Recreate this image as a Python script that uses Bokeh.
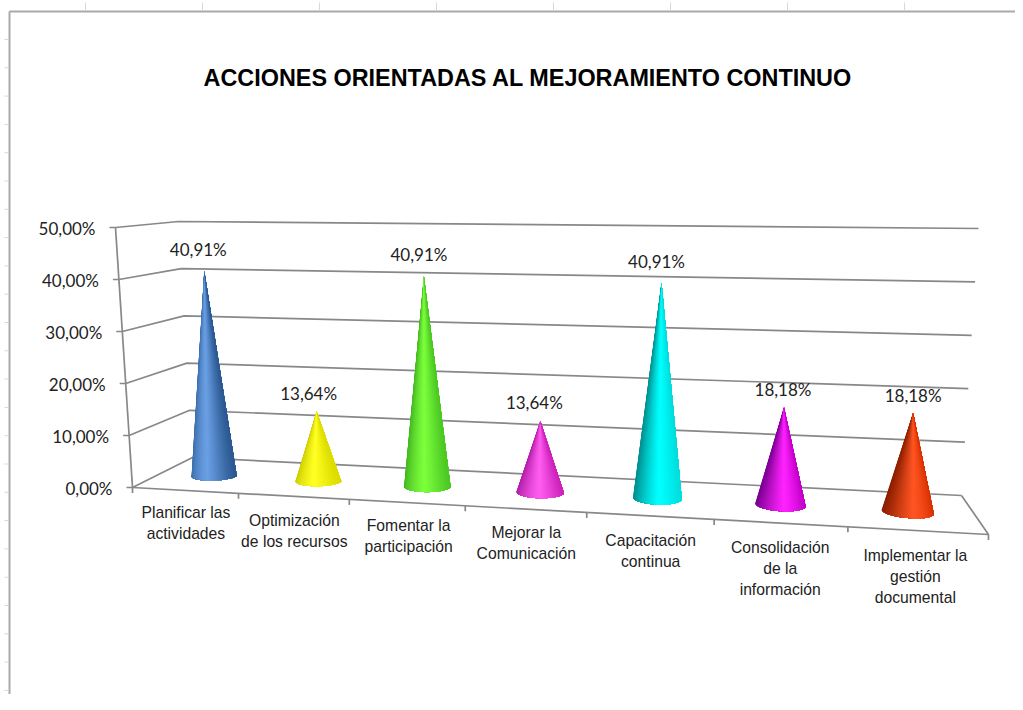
import math
from bokeh.plotting import figure
from bokeh.models import ColumnDataSource, Range1d
from bokeh.core.properties import value
from bokeh.embed import file_html
from bokeh.resources import INLINE

# ---- data ----
title = "ACCIONES ORIENTADAS AL MEJORAMIENTO CONTINUO"
categories = [
    "Planificar las\nactividades",
    "Optimización\nde los recursos",
    "Fomentar la\nparticipación",
    "Mejorar la\nComunicación",
    "Capacitación\ncontinua",
    "Consolidación\nde la\ninformación",
    "Implementar la\ngestión\ndocumental",
]
values = [40.91, 13.64, 40.91, 13.64, 40.91, 18.18, 18.18]
axis_ticks = [0, 10, 20, 30, 40, 50]

# ---- styles: (left edge, highlight, right edge) of every cone ----
shades = [
    ("#33659f", "#6a9fe4", "#2c5a92"),
    ("#c8c800", "#ffff22", "#dcdc00"),
    ("#3fb01e", "#7cff3c", "#4cc824"),
    ("#b01ca6", "#ff5cf0", "#cc22bb"),
    ("#008c8c", "#00ffff", "#00dcdc"),
    ("#7a0090", "#ff22ff", "#c000c8"),
    ("#8c1e00", "#ff5522", "#d83000"),
]
# small layout nudges, in pixels
label_offsets = [(-6, -21), (-8, -18), (-5, -22), (-6, -19), (-5, -21), (-1, -18), (0, -17)]
cone_nudge = [3, 4, 5, 5, 4, 3, 0]
cat_nudge = [(0, -2), (0, 0), (1, -1), (0, -1), (0, 1), (-1, 0), (-3, 1)]

# ---- 3D chart box seen in perspective (page pixels) ----
FL, FR, BL, BR = (132, 487), (988, 534), (192, 457), (961, 495)
UP_FL, UP_FR, UP_BL, UP_BR = (-17, -260), (20, -280), (-14, -236), (17, -267)
VMAX = 50
PERSP = 0.848
GRID = "#888888"
N = len(categories)
W, H = 1015, 694


def persp(t):
    return PERSP * t / (1 + (PERSP - 1) * t)


def bilinear(a, b, c, d, f, depth):
    front = (a[0] + f * (b[0] - a[0]), a[1] + f * (b[1] - a[1]))
    back = (c[0] + f * (d[0] - c[0]), c[1] + f * (d[1] - c[1]))
    return front[0] + depth * (back[0] - front[0]), front[1] + depth * (back[1] - front[1])


def project(t, depth, v=0):
    f = persp(t)
    x, y = bilinear(FL, FR, BL, BR, f, depth)
    ux, uy = bilinear(UP_FL, UP_FR, UP_BL, UP_BR, f, depth)
    return x + ux * v / VMAX, y + uy * v / VMAX


def hex2rgb(h):
    return tuple(int(h[i:i + 2], 16) for i in (1, 3, 5))


def mix(a, b, k):
    ra, rb = hex2rgb(a), hex2rgb(b)
    return "#%02x%02x%02x" % tuple(round(ra[i] + (rb[i] - ra[i]) * k) for i in range(3))


p = figure(width=W, height=H, x_range=Range1d(0, W), y_range=Range1d(H, 0),
           x_axis_type=None, y_axis_type=None, toolbar_location=None,
           output_backend="svg", min_border=0, outline_line_color=None)
p.background_fill_color = "#ffffff"
p.border_fill_color = "#ffffff"

# worksheet frame behind the chart
p.line([9, 9], [11, H], line_color="#a9a9a9", line_width=2)
p.line([9, W], [11, 11], line_color="#a9a9a9", line_width=2)
p.multi_line([[85 + 117 * i] * 2 for i in range(8)], [[2, 10]] * 8, line_color="#d8d8d8", line_width=1)
p.multi_line([[4, 8] for i in range(24)], [[39 + 28.3 * i] * 2 for i in range(24)], line_color="#d8d8d8", line_width=1)

# walls and floor
xs, ys = [], []
for v in axis_ticks:
    a, b, c = project(0, 0, v), project(0, 1, v), project(1, 1, v)
    xs.append([a[0] - 6, a[0], b[0], c[0]])
    ys.append([a[1], a[1], b[1], c[1]])
a0, a1 = project(0, 0, 0), project(0, 0, VMAX)
xs.append([a0[0], a1[0]]); ys.append([a0[1], a1[1]])
c0, c1, c2 = project(1, 1, 0), project(1, 0, 0), project(0, 0, 0)
xs.append([c0[0], c1[0], c2[0]]); ys.append([c0[1], c1[1], c2[1]])
for i in range(N + 1):
    q = project(i / N, 0, 0)
    xs.append([q[0], q[0]]); ys.append([q[1], q[1] + 5.5])
p.multi_line(xs, ys, line_color=GRID, line_width=1.7)

# cones: painted left to right, each layer covering the rest of the base arc
RT, RD = 0.0307, 0.18
STEPS = 48
px, py, pc = [], [], []
tips = []
for i, val in enumerate(values):
    t0 = (i + 0.5) / N
    tip = project(t0, 0.5, val)
    tips.append((tip[0] + cone_nudge[i], tip[1]))
    left, mid, right = shades[i]
    rt = RT * (1 - 0.1 * t0)
    arc = [project(t0 + rt * math.cos(math.pi + math.pi * j / STEPS),
                   0.5 + RD * math.sin(math.pi + math.pi * j / STEPS)) for j in range(STEPS + 1)]
    for j in range(STEPS):
        u = math.cos(math.pi + math.pi * (j + 0.5) / STEPS)
        col = mix(mid, left, min(1, (0.1 - u) / 1.1) ** 1.2) if u < 0.1 else mix(mid, right, ((u - 0.1) / 0.9) ** 1.2)
        px.append([tips[i][0]] + [a[0] + cone_nudge[i] for a in arc[j:]])
        py.append([tips[i][1]] + [a[1] for a in arc[j:]])
        pc.append(col)
p.patches(px, py, fill_color=pc, line_color=None)

# data labels
lab = dict(x=[], y=[], text=[])
for i, val in enumerate(values):
    lab["x"].append(tips[i][0] + label_offsets[i][0])
    lab["y"].append(tips[i][1] + label_offsets[i][1])
    lab["text"].append(f"{val:.2f}%".replace(".", ","))
p.text("x", "y", "text", source=ColumnDataSource(lab), text_font=value("Lato"), text_font_size="17px",
       text_color="#222222", text_align="center", text_baseline="middle")

# value axis labels
lab = dict(x=[], y=[], text=[])
for v in axis_ticks:
    q = project(0, 0, v)
    lab["x"].append(q[0] - 20)
    lab["y"].append(q[1] + 1)
    lab["text"].append(f"{v:.2f}%".replace(".", ","))
p.text("x", "y", "text", source=ColumnDataSource(lab), text_font=value("Lato"), text_font_size="17px",
       text_color="#222222", text_align="right", text_baseline="middle")

# category labels
lab = dict(x=[], y=[], text=[])
for i, cat in enumerate(categories):
    q = project((i + 0.5) / N, 0, 0)
    for k, line in enumerate(cat.split("\n")):
        lab["x"].append(q[0] + 1 + cat_nudge[i][0])
        lab["y"].append(q[1] + 24 + cat_nudge[i][1] + 21 * k)
        lab["text"].append(line)
p.text("x", "y", "text", source=ColumnDataSource(lab), text_font=value("Liberation Sans"), text_font_size="15.7px",
       text_color="#222222", text_align="center", text_baseline="middle")

# title
p.text([527.5], [77.5], [title], text_font=value("Liberation Sans"), text_font_style="bold",
       text_font_size="23.4px", text_color="#000000", text_align="center", text_baseline="middle")

open("out.html", "w").write(file_html(p, INLINE))
